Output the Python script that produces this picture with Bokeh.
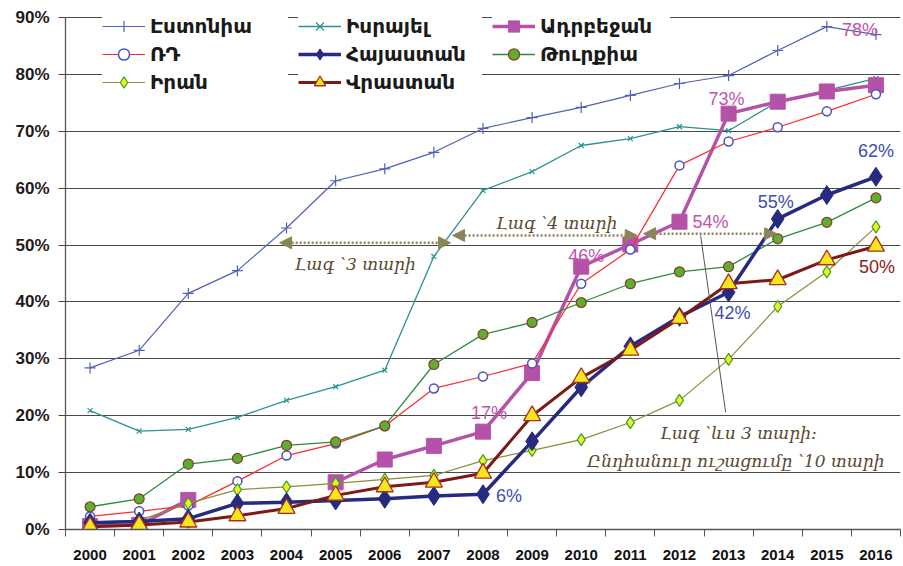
import math
from bokeh.plotting import figure
from bokeh.models import (Range1d, FixedTicker, Legend, LegendItem, Arrow,
                          NormalHead, Label)
from bokeh.embed import file_html
from bokeh.resources import INLINE

nan = float("nan")

years = list(range(2000, 2017))
year_labels = [str(y) for y in years]
y_ticks = [0, 10, 20, 30, 40, 50, 60, 70, 80, 90]
y_tick_labels = ["0%", "10%", "20%", "30%", "40%", "50%", "60%", "70%", "80%", "90%"]

names = ["Էստոնիա", "Իսրայել", "Ադրբեջան", "ՌԴ", "Հայաստան", "Թուրքիա", "Իրան", "Վրաստան"]

estonia = [28.4, 31.5, 41.5, 45.5, 53.0, 61.3, 63.4, 66.3, 70.5, 72.4, 74.2, 76.3, 78.4, 79.8, 84.2, 88.4, 87.0]
israel = [20.9, 17.3, 17.6, 19.7, 22.7, 25.1, 28.0, 48.0, 59.6, 62.9, 67.5, 68.7, 70.8, 70.1, 75.2, 77.2, 79.3]
russia = [2.3, 3.2, 4.2, 8.5, 13.0, 15.1, 18.2, 24.8, 26.9, 29.2, 43.2, 49.2, 64.0, 68.2, 70.7, 73.5, 76.5]
armenia = [1.2, 1.4, 1.9, 4.6, 4.8, 5.1, 5.4, 5.9, 6.2, 15.5, 25.0, 32.2, 37.4, 41.7, 54.6, 58.8, 62.0]
azerbaijan = [0.6, 0.8, 5.2, nan, nan, 8.3, 12.3, 14.7, 17.2, 27.5, 46.2, 50.1, 54.1, 73.1, 75.2, 77.0, 78.1]
turkey = [4.0, 5.4, 11.5, 12.5, 14.8, 15.4, 18.2, 29.0, 34.3, 36.4, 39.9, 43.2, 45.3, 46.2, 51.1, 54.0, 58.3]
iran = [1.3, 1.6, 4.6, 7.0, 7.5, 8.1, 8.8, 9.5, 12.1, 13.9, 15.8, 18.8, 22.7, 29.9, 39.2, 45.3, 53.2]
georgia = [0.5, 0.8, 1.3, 2.4, 3.7, 6.0, 7.5, 8.3, 9.9, 20.0, 26.7, 31.5, 37.1, 43.2, 43.9, 47.4, 49.8]

series = {"estonia": estonia, "israel": israel, "azerbaijan": azerbaijan, "russia": russia,
          "armenia": armenia, "turkey": turkey, "iran": iran, "georgia": georgia}

# value labels
lbl_key = ["azerbaijan", "azerbaijan", "armenia", "armenia", "azerbaijan",
           "azerbaijan", "armenia", "azerbaijan", "armenia", "georgia"]
lbl_year = [2016, 2013, 2016, 2014, 2012, 2010, 2013, 2008, 2008, 2016]
lbl_text = ["78%", "73%", "62%", "55%", "54%", "46%", "42%", "17%", "6%", "50%"]

# annotations
ann_text = ["Լագ ՝4 տարի", "Լագ ՝3 տարի", "Լագ ՝ևս 3 տարի:", "Ընդհանուր ուշացումը ՝10 տարի"]
ann_x = [2009.5, 2005.4, 2013.2, 2013.15]
ann_y = [53.8, 46.6, 17.0, 12.1]
arrow_x0 = [2003.86, 2007.38, 2011.27]
arrow_x1 = [2007.34, 2011.14, 2013.98]
arrow_y = [50.4, 51.7, 52.0]

# frame spans the full height above the axis; the 90% line sits 17px below its top
y_top = 90 * 529 / 512
p = figure(width=901, height=564, output_backend="svg", toolbar_location=None,
           x_range=Range1d(1999.5, 2016.5), y_range=Range1d(0, y_top))
p.min_border_left = 65
p.min_border_right = 1
p.min_border_top = 0
p.min_border_bottom = 35
p.outline_line_color = None
p.background_fill_color = "white"

# axes
p.xaxis.ticker = FixedTicker(ticks=years, minor_ticks=[y - 0.5 for y in years] + [2016.5])
p.xaxis.major_label_overrides = {y: s for y, s in zip(years, year_labels)}
p.xaxis.major_tick_out = 0
p.xaxis.major_tick_in = 0
p.xaxis.minor_tick_out = 7
p.xaxis.minor_tick_in = 0
p.xaxis.minor_tick_line_color = "#555555"
p.xaxis.axis_line_color = "#555555"
p.xaxis.axis_line_width = 1.3
p.xaxis.major_label_standoff = 13
p.xaxis.major_label_text_font = "Liberation Sans"
p.xaxis.major_label_text_font_style = "bold"
p.xaxis.major_label_text_font_size = "15px"
p.xaxis.major_label_text_color = "#111111"

p.yaxis.ticker = FixedTicker(ticks=y_ticks)
p.yaxis.bounds = (0, 90)
p.yaxis.major_label_overrides = {t: s for t, s in zip(y_ticks, y_tick_labels)}
p.yaxis.minor_tick_line_color = None
p.yaxis.major_tick_out = 7
p.yaxis.major_tick_in = 0
p.yaxis.major_tick_line_color = "#444444"
p.yaxis.axis_line_color = "#555555"
p.yaxis.axis_line_width = 1.3
p.yaxis.major_label_standoff = 9
p.yaxis.major_label_text_font = "Liberation Sans"
p.yaxis.major_label_text_font_style = "bold"
p.yaxis.major_label_text_font_size = "17px"
p.yaxis.major_label_text_color = "#1c1c1c"

p.xgrid.grid_line_color = None
p.ygrid.grid_line_color = "#4a4a4a"
p.ygrid.grid_line_width = 1.2

styles = {
    "estonia": dict(color="#5060bc", lw=1.2, marker="cross", size=11, fill="#5060bc", edge="#5060bc", mlw=1.2),
    "israel": dict(color="#2a9294", lw=1.3, marker="x", size=7, fill="#2a9294", edge="#2a9294", mlw=1.2),
    "azerbaijan": dict(color="#b452a8", lw=3.5, marker="square", size=15, fill="#b452a8", edge="#b452a8", mlw=1),
    "russia": dict(color="#ff2a2a", lw=1.2, marker="circle", size=9, fill="white", edge="#4454c0", mlw=1.5),
    "turkey": dict(color="#2e8b3e", lw=1.3, marker="circle", size=10, fill="#5cb030", edge="#8b3a28", mlw=1.2),
    "iran": dict(color="#8c8c3a", lw=1.2, marker="diamond", size=12, fill="#f2f01e", edge="#3aa030", mlw=1.2),
    "armenia": dict(color="#262a80", lw=3.5, marker="diamond", size=19, fill="#262a80", edge="#262a80", mlw=1),
    "georgia": dict(color="#7c1a16", lw=3.0, marker="triangle", size=17, fill="#f5e61e", edge="#a8301e", mlw=1.3),
}
draw_order = ["estonia", "israel", "azerbaijan", "russia", "turkey", "iran", "armenia", "georgia"]
key_of = dict(zip(["estonia", "israel", "azerbaijan", "russia", "armenia", "turkey", "iran", "georgia"], names))

renderers = {}
for k in draw_order:
    s = styles[k]
    vals = series[k]
    ln = p.line(years, vals, line_color=s["color"], line_width=s["lw"])
    mk = p.scatter(years, vals, marker=s["marker"], size=s["size"], fill_color=s["fill"],
                   line_color=s["edge"], line_width=s["mlw"])
    renderers[k] = [ln, mk]

# value labels
lbl_colors = {"azerbaijan": "#c055ac", "armenia": "#3e4db0", "georgia": "#8c2020"}
lbl_dx = [-16, -2, 0, -2, 31, 5, 4, 6, 26, 1]
lbl_dy = [55, 15, 26, 17, 0, 11, -21, 19, -2, -21]
for k, yr, t, dx, dy in zip(lbl_key, lbl_year, lbl_text, lbl_dx, lbl_dy):
    v = series[k][years.index(yr)]
    p.add_layout(Label(x=yr, y=v, text=t, x_offset=dx, y_offset=dy,
                       text_align="center", text_baseline="middle",
                       text_font="Liberation Sans", text_font_size="18px",
                       text_color=lbl_colors[k]))

# arrows
arrow_col = "#8a8558"
for i, (x0, x1, yy) in enumerate(zip(arrow_x0, arrow_x1, arrow_y)):
    p.add_layout(Arrow(x_start=x0, y_start=yy, x_end=x1, y_end=yy,
                       start=NormalHead(size=12, fill_color=arrow_col, line_color=arrow_col),
                       end=NormalHead(size=12, fill_color=arrow_col, line_color=arrow_col),
                       line_color=arrow_col, line_width=2.5, line_dash="2 2"))
# leader line
p.add_layout(Arrow(x_start=2012.43, y_start=51.7, x_end=2012.94, y_end=20.6, end=None,
                   line_color="#555555", line_width=1))

for t, x, y in zip(ann_text, ann_x, ann_y):
    p.add_layout(Label(x=x, y=y, text=t, text_align="center", text_baseline="middle",
                       text_font="DejaVu Serif", text_font_style="italic",
                       text_font_size="17px", text_color="#5a4830"))

# legends (three columns)
columns = [["estonia", "russia", "iran"], ["israel", "armenia", "georgia"], ["azerbaijan", "turkey"]]
locs = [(37, 433), (233, 433), (427, 461)]
lwidths = [138, 136, 130]
for col, loc, lw in zip(columns, locs, lwidths):
    items = [LegendItem(label=key_of[k], renderers=renderers[k]) for k in col]
    lg = Legend(items=items, location=loc, orientation="vertical",
                glyph_width=43, glyph_height=28, label_height=28, spacing=0,
                padding=5, margin=0, label_standoff=5, label_width=lw,
                label_text_font="DejaVu Sans", label_text_font_style="bold",
                label_text_font_size="20px", label_text_color="#1a1a1a",
                border_line_color=None, background_fill_color="white",
                background_fill_alpha=1.0)
    p.add_layout(lg, "center")

open("out.html", "w").write(file_html(p, INLINE))
